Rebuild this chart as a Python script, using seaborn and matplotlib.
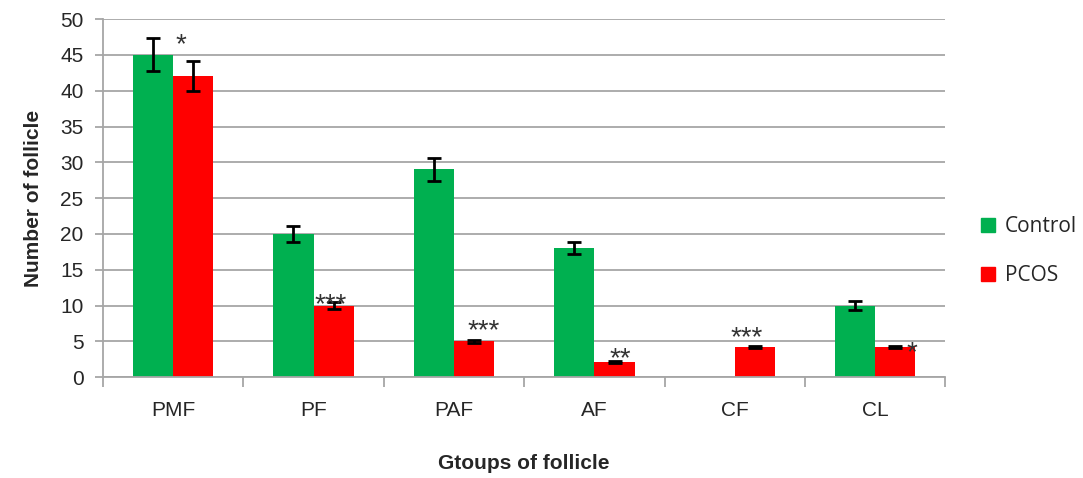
import matplotlib
matplotlib.use("Agg")
import matplotlib.pyplot as plt
from matplotlib.lines import Line2D
from matplotlib.ticker import MultipleLocator, FixedLocator
import numpy as np
import pandas as pd
import seaborn as sns

# ─── Data ─────────────────────────────────────────────────────────
categories = ["PMF", "PF", "PAF", "AF", "CF", "CL"]
groups = ["Control", "PCOS"]
control_mean = [45, 20, 29, 18, 0, 10]
control_err = [2.3, 1.1, 1.6, 0.85, 0, 0.6]
pcos_mean = [42, 10, 5, 2.1, 4.2, 4.2]
pcos_err = [2.1, 0.5, 0.25, 0.12, 0.15, 0.15]
sig_marks = ["*", "***", "***", "**", "***", "*"]

COLORS = {"Control": "#00b050", "PCOS": "#ff0000"}

df = pd.DataFrame({
    "group_of_follicle": categories * 2,
    "group": ["Control"] * len(categories) + ["PCOS"] * len(categories),
    "mean": control_mean + pcos_mean,
    "err": control_err + pcos_err,
})

# ─── Figure ───────────────────────────────────────────────────────
sns.set_style("white")
plt.rcParams["font.family"] = ["Liberation Sans", "DejaVu Sans"]

fig = plt.figure(figsize=(10.83, 4.78), dpi=100)
ax = fig.add_axes([0.095, 0.211, 0.778, 0.749])

sns.barplot(
    data=df, x="group_of_follicle", y="mean", hue="group",
    order=categories, hue_order=groups, palette=COLORS, saturation=1,
    width=0.573, gap=0, errorbar=None, legend=False,
    linewidth=0, ax=ax,
)

# error bars at the bar centres
for grp, cont in zip(groups, ax.containers):
    sub = df[df["group"] == grp].set_index("group_of_follicle").loc[categories]
    for patch, m, e in zip(cont.patches, sub["mean"], sub["err"]):
        if m <= 0:
            continue
        xc = patch.get_x() + patch.get_width() / 2
        ax.errorbar(xc, m, yerr=e, fmt="none", ecolor="black",
                    elinewidth=2, capsize=5, capthick=2, zorder=4)

# significance marks (offsets relative to the PCOS bar centre)
mark_dx = [-0.09, -0.02, 0.065, 0.04, -0.06, 0.116]
mark_y = [47.5, 11.2, 7.5, 3.6, 6.6, 4.5]
pcos_bars = ax.containers[1].patches
for patch, txt, dx, y in zip(pcos_bars, sig_marks, mark_dx, mark_y):
    xc = patch.get_x() + patch.get_width() / 2
    ax.text(xc + dx, y - 1.1, txt, ha="center", va="center",
            fontsize=20, color="#333333", zorder=5)

# axes styling (Excel look)
ax.set_ylim(0, 50)
ax.set_xlim(-0.5, len(categories) - 0.5)
ax.yaxis.set_major_locator(MultipleLocator(5))
ax.grid(axis="y", color="#a6a6a6", linewidth=1.3)
ax.set_axisbelow(True)
for s in ["top", "right"]:
    ax.spines[s].set_visible(False)
for s in ["left", "bottom"]:
    ax.spines[s].set_color("#a6a6a6")
    ax.spines[s].set_linewidth(1.3)

ax.tick_params(axis="y", which="major", direction="out", length=6,
               color="#a6a6a6", width=1.3, labelsize=15, pad=8, left=True)
ax.tick_params(axis="x", which="major", length=0, labelsize=15, pad=17)
ax.xaxis.set_minor_locator(FixedLocator(np.arange(-0.5, len(categories), 1.0)))
ax.tick_params(axis="x", which="minor", direction="out", length=7,
               color="#a6a6a6", width=1.3, bottom=True)

ax.set_xlabel("Gtoups of follicle", fontsize=15, fontweight="bold", labelpad=25)
ax.set_ylabel("Number of follicle", fontsize=15, fontweight="bold", labelpad=12)

# legend on the right
handles = [Line2D([], [], marker="s", linestyle="none", markersize=10,
                  markerfacecolor=COLORS[g], markeredgecolor=COLORS[g])
           for g in groups]
fig.legend(handles, groups, loc="center left", bbox_to_anchor=(0.905, 0.475),
           frameon=False, labelspacing=1.35, handletextpad=0.4,
           handlelength=0.8, borderpad=0, borderaxespad=0,
           prop={"family": ["Open Sans", "DejaVu Sans"], "size": 15})

plt.savefig("out.png", dpi=100)
plt.close()
